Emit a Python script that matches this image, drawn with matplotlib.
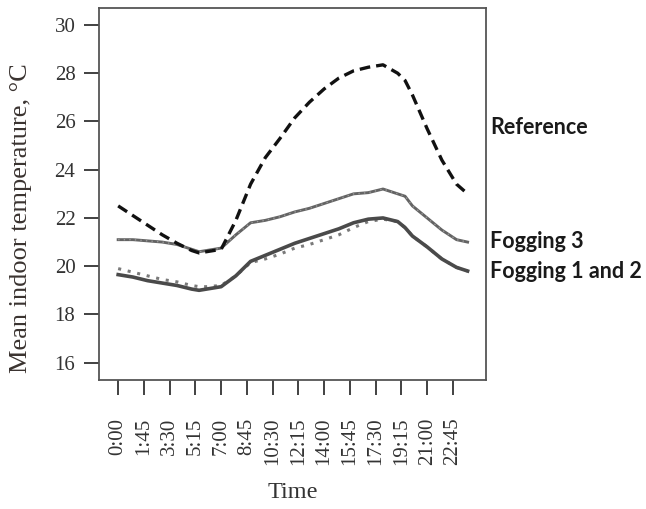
# Mean indoor temperature over the day: reference room vs fogging cases

import numpy as np
import matplotlib
matplotlib.use("Agg")
import matplotlib.pyplot as plt

# Time of day in hours
hours = [0, 1, 2, 3, 4, 5, 5.5, 6, 7, 8, 9, 10, 11, 12, 13, 14, 15, 16,
         17, 18, 19, 19.5, 20, 21, 22, 23, 23.75]

reference = [22.5, 22.1, 21.7, 21.3, 20.95, 20.65, 20.55, 20.6, 20.7, 21.9,
             23.4, 24.5, 25.3, 26.15, 26.8, 27.35, 27.8, 28.1, 28.25, 28.35,
             28.0, 27.7, 27.1, 25.7, 24.4, 23.4, 23.0]
fogging3 = [21.1, 21.1, 21.05, 21.0, 20.9, 20.7, 20.6, 20.65, 20.75, 21.3,
            21.8, 21.9, 22.05, 22.25, 22.4, 22.6, 22.8, 23.0, 23.05, 23.2,
            23.0, 22.9, 22.5, 22.0, 21.5, 21.1, 21.0]
fogging1 = [19.65, 19.55, 19.4, 19.3, 19.2, 19.05, 19.0, 19.05, 19.15, 19.6,
            20.2, 20.45, 20.7, 20.95, 21.15, 21.35, 21.55, 21.8, 21.95, 22.0,
            21.85, 21.6, 21.25, 20.8, 20.3, 19.95, 19.8]
fogging2 = [19.9, 19.75, 19.6, 19.45, 19.35, 19.2, 19.15, 19.15, 19.2, 19.6,
            20.15, 20.3, 20.5, 20.75, 20.9, 21.1, 21.3, 21.6, 21.85, 21.95,
            21.85, 21.6, 21.25, 20.8, 20.3, 19.95, 19.8]

tick_labels = ["0:00", "1:45", "3:30", "5:15", "7:00", "8:45", "10:30",
               "12:15", "14:00", "15:45", "17:30", "19:15", "21:00", "22:45"]
tick_pos = np.arange(len(tick_labels)) * 1.75

plt.rcParams["font.family"] = ["Liberation Serif", "DejaVu Serif"]

fig = plt.figure(figsize=(6.46, 5.09), dpi=100)
ax = fig.add_axes([0.1533, 0.2534, 0.599, 0.7306])

ax.plot(hours, fogging2, color="#7a7a7a", lw=2.2, linestyle=(0, (1, 2.2)))
ax.plot(hours, fogging1, color="#4a4a4a", lw=2.6)
ax.plot(hours, fogging3, color="#646464", lw=2.1)
ax.plot(hours, fogging3, color="#9a9a9a", lw=1.0, linestyle=(0, (1, 3)))
ax.plot(hours, reference, color="#111111", lw=2.4, dashes=(3.2, 1.8))

ax.set_xlim(-1.3, 25.0)
ax.set_ylim(15.28, 30.7)
ax.set_yticks(range(16, 31, 2))
ax.set_xticks(tick_pos)
ax.set_xticklabels(tick_labels, rotation=90)

ax.tick_params(axis="both", direction="out", length=11, width=1.3,
               colors="#333333", labelsize=15)
ax.tick_params(axis="x", pad=16)
ax.tick_params(axis="y", pad=6)
for s in ax.spines.values():
    s.set_color("#555555")
    s.set_linewidth(1.3)

ax.set_xlabel("Time", fontsize=17.5, color="#333333", labelpad=12)
ax.set_ylabel("Mean indoor temperature, °C", fontsize=19, color="#3a3330")
ax.yaxis.set_label_coords(-0.173, 0.435)

# series names on the right
lab = dict(fontsize=15.5, fontweight="bold", color="#1a1a1a",
           family=["Lato", "DejaVu Sans"], va="center", ha="left")
fig.text(490 / 646, 1 - 127 / 509, "Reference", **lab)
fig.text(490 / 646, 1 - 242 / 509, "Fogging 3", **lab)
fig.text(490 / 646, 1 - 271 / 509, "Fogging 1 and 2", **lab)

fig.savefig("out.png", dpi=100)
